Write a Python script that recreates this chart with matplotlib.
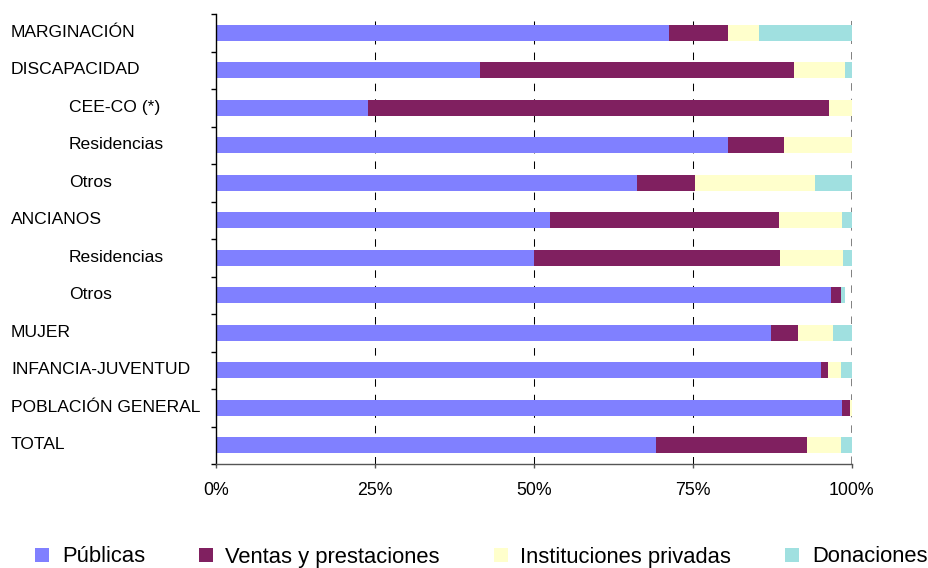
import matplotlib
matplotlib.use("Agg")
import matplotlib.pyplot as plt
from matplotlib.transforms import blended_transform_factory
from matplotlib.patches import Patch
import numpy as np

categories = ["MARGINACIÓN", "DISCAPACIDAD", "CEE-CO (*)", "Residencias", "Otros",
              "ANCIANOS", "Residencias", "Otros", "MUJER", "INFANCIA-JUVENTUD",
              "POBLACIÓN GENERAL", "TOTAL"]
subcategory_rows = [2, 3, 4, 6, 7]

publicas = [71.3, 41.5, 23.9, 80.6, 66.2, 52.6, 50.0, 96.7, 87.3, 95.2, 98.5, 69.2]
ventas = [9.3, 49.5, 72.5, 8.8, 9.1, 35.9, 38.7, 1.6, 4.3, 1.1, 1.3, 23.8]
instituciones = [4.8, 7.9, 3.6, 10.7, 18.9, 9.9, 9.9, 0.0, 5.5, 2.0, 0.3, 5.3]
donaciones = [14.6, 1.1, 0.0, 0.0, 5.8, 1.7, 1.4, 0.6, 2.9, 1.7, 0.0, 1.7]

series_names = ["Públicas", "Ventas y prestaciones", "Instituciones privadas", "Donaciones"]
xticks = [0, 25, 50, 75, 100]
xtick_labels = ["0%", "25%", "50%", "75%", "100%"]

colors = ["#8080FF", "#802060", "#FFFFCC", "#A0E0E0"]

plt.rcParams['font.family'] = ['Liberation Sans', 'DejaVu Sans']
plt.rcParams['lines.scale_dashes'] = False

W, H = 929, 568
fig = plt.figure(figsize=(W / 100, H / 100), dpi=100)
ax = fig.add_axes([215.7 / W, 1 - 464 / H, 636 / W, 450 / H])

n = len(categories)
y = np.arange(n)
left = np.zeros(n)
for vals, name, c in zip([publicas, ventas, instituciones, donaciones], series_names, colors):
    vals = np.array(vals)
    ax.barh(y, vals, left=left, height=0.42, color=c, label=name, zorder=2)
    left += vals

ax.set_xlim(0, 100)
ax.set_ylim(n - 0.5, -0.5)

# grid
ax.set_xticks(xticks)
ax.set_xticklabels(xtick_labels, fontsize=12.8)
ax.xaxis.grid(True, color="black", linewidth=0.75, linestyle=(0, (5.4, 5.8)))
ax.set_axisbelow(True)
gl = ax.get_xgridlines()
gl[0].set_visible(False)
gl[-1].set_color("#808080")
gl[-1].set_linewidth(1.4)
gl[-1].set_zorder(3)

ax.tick_params(axis="x", direction="out", length=3, width=1, color="#555555", pad=10)
ax.set_yticks(np.arange(-0.5, n, 1))
ax.set_yticklabels([])
ax.tick_params(axis="y", direction="out", length=3.6, width=1, color="black")

for s in ["top", "right"]:
    ax.spines[s].set_visible(False)
ax.spines["left"].set_color("black")
ax.spines["left"].set_linewidth(1.0)
ax.spines["bottom"].set_color("#555555")
ax.spines["bottom"].set_linewidth(1.0)

trans = blended_transform_factory(fig.transFigure, ax.transData)
for i, lab in enumerate(categories):
    xpos = 69 / W if i in subcategory_rows else 11 / W
    ax.text(xpos, i - 0.02, lab, transform=trans, ha="left", va="center", fontsize=12.6)

handles = [Patch(facecolor=c, edgecolor="none", label=nm) for c, nm in zip(colors, series_names)]
fig.legend(handles=handles, loc="lower left", bbox_to_anchor=(35 / W, 0.5 / H), ncol=4,
           frameon=False, fontsize=15.8, handlelength=0.64, handleheight=0.64,
           handletextpad=0.58, columnspacing=2.45, borderpad=0, borderaxespad=0)

fig.savefig("out.png", dpi=100)
